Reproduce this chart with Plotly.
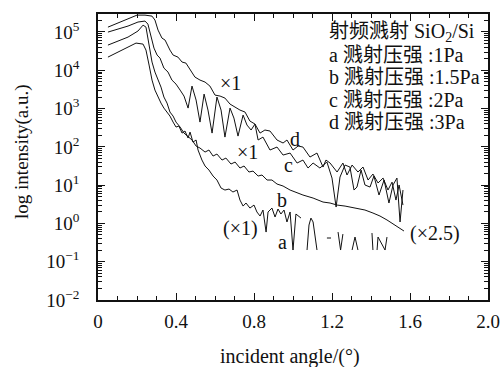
import plotly.graph_objects as go

# ---------------- data ----------------
# incident angle (deg) and intensity (a.u.)
d_x = [0.051, 0.087, 0.123, 0.164, 0.200, 0.241, 0.277, 0.292, 0.308, 0.328, 0.344, 0.369,
       0.385, 0.410, 0.431, 0.451, 0.472, 0.497, 0.523, 0.549, 0.574, 0.600, 0.626, 0.651,
       0.677, 0.703, 0.728, 0.754, 0.779, 0.805, 0.831, 0.856, 0.882, 0.918, 0.949, 0.969,
       1.000, 1.026, 1.051, 1.087, 1.123, 1.154, 1.169, 1.190, 1.226, 1.256, 1.277, 1.303,
       1.333, 1.359, 1.385, 1.410, 1.436, 1.462, 1.487, 1.508, 1.528, 1.544, 1.564]
d_y = [1.34e5, 1.61e5, 1.93e5, 2.31e5, 2.76e5, 2.76e5, 2.60e5, 2.05e5, 1.12e5, 6.93e4, 6.15e4, 3.37e4,
       2.50e4, 2.21e4, 1.64e4, 1.54e4, 1.01e4, 6.65e3, 5.55e3, 4.92e3, 3.87e3, 2.25e3, 2.12e3, 1.88e3,
       1.31e3, 1.09e3, 914, 811, 472, 394, 229, 275, 259, 151, 126, 151,
       82.6, 105, 98.9, 54.2, 68.9, 29.7, 45.2, 37.8, 22.0, 37.8, 18.4, 33.5,
       22.0, 29.7, 13.6, 19.5, 11.4, 15.3, 7.45, 12.0, 4.08, 10.1, 3.02]

c_x = [0.051, 0.103, 0.154, 0.205, 0.241, 0.256, 0.272, 0.287, 0.303, 0.318, 0.338, 0.359,
       0.379, 0.400, 0.421, 0.441, 0.462, 0.482, 0.503, 0.523, 0.544, 0.564, 0.585, 0.610,
       0.631, 0.651, 0.677, 0.697, 0.718, 0.744, 0.764, 0.785, 0.805, 0.821, 0.846, 0.882,
       0.918, 0.949, 0.985, 1.021, 1.051, 1.077, 1.103, 1.138, 1.174, 1.200, 1.221, 1.241,
       1.267, 1.292, 1.313, 1.328, 1.349, 1.369, 1.395, 1.415, 1.441, 1.467, 1.492, 1.513,
       1.533, 1.549, 1.564]
c_y = [9.94e4, 1.19e5, 1.43e5, 1.82e5, 1.93e5, 1.61e5, 8.30e4, 3.80e4, 2.50e4, 2.08e4, 1.14e4, 8.98e3,
       5.55e3, 4.36e3, 3.04e3, 2.12e3, 1.03e3, 3.87e3, 1.67e3, 444, 2.39e3, 914, 229, 2.0e3,
       914, 180, 1.03e3, 565, 191, 676, 371, 275, 394, 151, 180, 82.6,
       98.9, 61.1, 68.9, 37.8, 45.2, 28.0, 37.8, 28.0, 40.1, 15.3, 2.68, 16.3,
       33.5, 29.7, 7.45, 8.91, 24.8, 10.1, 8.91, 17.3, 5.52, 13.6, 3.41, 10.1,
       15.3, 1.09, 7.45]

b_x = [0.051, 0.103, 0.154, 0.205, 0.231, 0.246, 0.262, 0.277, 0.292, 0.308, 0.323, 0.338,
       0.354, 0.369, 0.385, 0.400, 0.421, 0.441, 0.462, 0.482, 0.503, 0.523, 0.549, 0.569,
       0.590, 0.610, 0.636, 0.656, 0.682, 0.703, 0.728, 0.749, 0.774, 0.795, 0.821, 0.841,
       0.867, 0.892, 0.918, 0.949, 0.985, 1.021, 1.051, 1.103, 1.154, 1.190, 1.226, 1.267,
       1.328, 1.369, 1.410, 1.446, 1.482, 1.513, 1.533, 1.554, 1.569]
b_y = [4.55e4, 5.78e4, 7.36e4, 1.06e5, 1.51e5, 1.34e5, 4.55e4, 1.64e4, 8.98e3, 5.55e3, 3.64e3, 2.0e3,
       1.39e3, 811, 637, 444, 329, 229, 180, 151, 105, 93.1, 73.1, 82.6,
       57.5, 64.9, 45.2, 51.0, 35.6, 40.1, 28.0, 31.6, 22.0, 23.3, 17.3, 18.4,
       13.6, 13.6, 10.7, 9.48, 7.45, 6.22, 5.52, 4.60, 3.62, 3.41, 3.02, 2.84,
       2.52, 2.24, 1.87, 1.56, 1.23, 0.964, 0.805, 0.714, 0.634]

# None = no measurable signal (gap in the trace)
a_x = [0.051, 0.103, 0.154, 0.195, 0.231, 0.246, 0.262, 0.277, 0.292, 0.308, 0.323, 0.338,
       0.354, 0.369, 0.385, 0.400, 0.415, 0.431, 0.446, 0.462, 0.472, 0.487, 0.503, 0.513,
       0.533, 0.549, 0.569, 0.590, 0.610, 0.631, 0.651, 0.672, 0.692, 0.713, 0.728, 0.744,
       0.759, 0.779, 0.800, 0.815, 0.831, 0.846, 0.862, 0.872, 0.892, 0.908, 0.923, 0.938,
       0.954, 0.969, 0.985, 1.000, 1.015, 1.031, 1.041, 1.055,
       1.072, 1.082, 1.092, 1.103, 1.123, 1.150,
       1.174, 1.195, 1.210,
       1.231, 1.244, 1.256, 1.280,
       1.303, 1.318, 1.333, 1.380,
       1.405, 1.410, 1.420,
       1.431, 1.436, 1.472, 1.482]
a_y = [2.21e4, 2.99e4, 4.04e4, 5.13e4, 4.83e4, 3.37e4, 1.37e4, 5.55e3, 3.04e3, 2.0e3, 1.39e3, 1.03e3,
       811, 637, 444, 329, 349, 229, 259, 170, 243, 133, 151, 82.6,
       45.2, 31.6, 24.8, 17.3, 13.6, 8.40, 7.45, 7.91, 6.61, 7.45, 4.08, 2.84,
       3.41, 2.52, 3.02, 1.99, 1.56, 2.24, 0.595, 1.99, 2.52, 1.47, 2.38, 1.76,
       2.24, 1.09, 1.99, 0.202, 1.76, 1.56, 1.38, None,
       0.202, 0.908, 1.38, 1.09, 0.202, None,
       0.416, 0.416, None,
       0.595, 0.202, 0.528, None,
       0.202, 0.441, 0.202, None,
       0.561, 0.202, None,
       0.202, 0.441, 0.202, 0.441]

x_tickvals = [0, 0.4, 0.8, 1.2, 1.6, 2.0]
x_ticktext = ["0", "0.4", "0.8", "1.2", "1.6", "2.0"]
y_tickvals = [1e-2, 1e-1, 1e0, 1e1, 1e2, 1e3, 1e4, 1e5]
y_ticktext = ["10<sup>\u22122</sup>", "10<sup>\u22121</sup>", "10<sup>0</sup>", "10<sup>1</sup>",
              "10<sup>2</sup>", "10<sup>3</sup>", "10<sup>4</sup>", "10<sup>5</sup>"]

legend_lines = ["射频溅射 SiO<sub>2</sub>/Si", "a 溅射压强 :1Pa", "b 溅射压强 :1.5Pa",
                "c 溅射压强 :2Pa", "d 溅射压强 :3Pa"]

# curve labels: (text, x, log10 y)
curve_labels = [("×1", 0.677, 3.666), ("×1", 0.769, 1.864), ("d", 1.010, 2.204),
                ("c", 0.979, 1.525), ("b", 0.944, 0.611), ("a", 0.944, -0.486),
                ("(×1)", 0.733, -0.120), ("(×2.5)", 1.728, -0.251)]

x_title = "incident angle/(°)"
y_title = "log intensity(a.u.)"

# ---------------- figure ----------------
FONT = "Liberation Serif, Times New Roman, Noto Sans CJK SC, serif"
INK = "#111111"
line_style = dict(color=INK, width=1)

# minor tick positions of the log axis (2..9 x 10^n)
y_minor = [k * 10.0 ** n for n in range(-2, 6) for k in range(2, 10)]

fig = go.Figure()
for xs, ys in [(a_x, a_y), (b_x, b_y), (c_x, c_y), (d_x, d_y)]:
    fig.add_trace(go.Scatter(x=xs, y=ys, mode="lines", line=line_style,
                             connectgaps=False, showlegend=False, hoverinfo="skip"))

for txt, xv, yv in curve_labels:
    fig.add_annotation(x=xv, y=yv, xref="x", yref="y", text=txt, showarrow=False,
                       font=dict(family=FONT, size=20, color=INK))

for i, txt in enumerate(legend_lines):
    fig.add_annotation(x=0.588, y=0.934 - i * 0.078, xref="paper", yref="paper",
                       text=txt, showarrow=False, xanchor="left", yanchor="middle",
                       font=dict(family=FONT, size=20, color=INK))

# axis titles
fig.add_annotation(x=0.492, y=-0.196, xref="paper", yref="paper", text=x_title,
                   showarrow=False, xanchor="center", yanchor="middle",
                   font=dict(family=FONT, size=20, color=INK))
fig.add_annotation(x=-0.195, y=0.521, xref="paper", yref="paper", text=y_title,
                   showarrow=False, xanchor="center", yanchor="middle", textangle=-90,
                   font=dict(family=FONT, size=19, color=INK))

fig.update_layout(
    width=500, height=367,
    margin=dict(l=98, r=12, t=14, b=67),
    paper_bgcolor="white", plot_bgcolor="white",
    font=dict(family=FONT, size=18, color=INK),
    showlegend=False,
)
fig.update_xaxes(
    range=[0, 2.0], tickvals=x_tickvals, ticktext=x_ticktext, automargin=False,
    showline=True, linecolor=INK, linewidth=1.5, mirror="ticks",
    ticks="inside", ticklen=7, tickcolor=INK, tickwidth=1.2,
    minor=dict(ticks="inside", dtick=0.1, ticklen=4, tickcolor=INK, tickwidth=1),
    showgrid=False, zeroline=False,
    tickfont=dict(family=FONT, size=19), ticklabelstandoff=3,
)
fig.update_yaxes(
    type="log", range=[-2, 5.47], tickvals=y_tickvals, ticktext=y_ticktext, automargin=False,
    showline=True, linecolor=INK, linewidth=1.5, mirror="ticks",
    ticks="inside", ticklen=7, tickcolor=INK, tickwidth=1.2,
    minor=dict(ticks="inside", tickvals=y_minor, ticklen=4, tickcolor=INK, tickwidth=1),
    showgrid=False, zeroline=False,
    tickfont=dict(family=FONT, size=19), ticklabelstandoff=13,
)

# remove the default page margin so the 500x367 figure fills the window exactly
fig.write_html("out.html", config={"displayModeBar": False},
               post_script="document.body.style.margin='0';document.body.style.overflow='hidden';")
